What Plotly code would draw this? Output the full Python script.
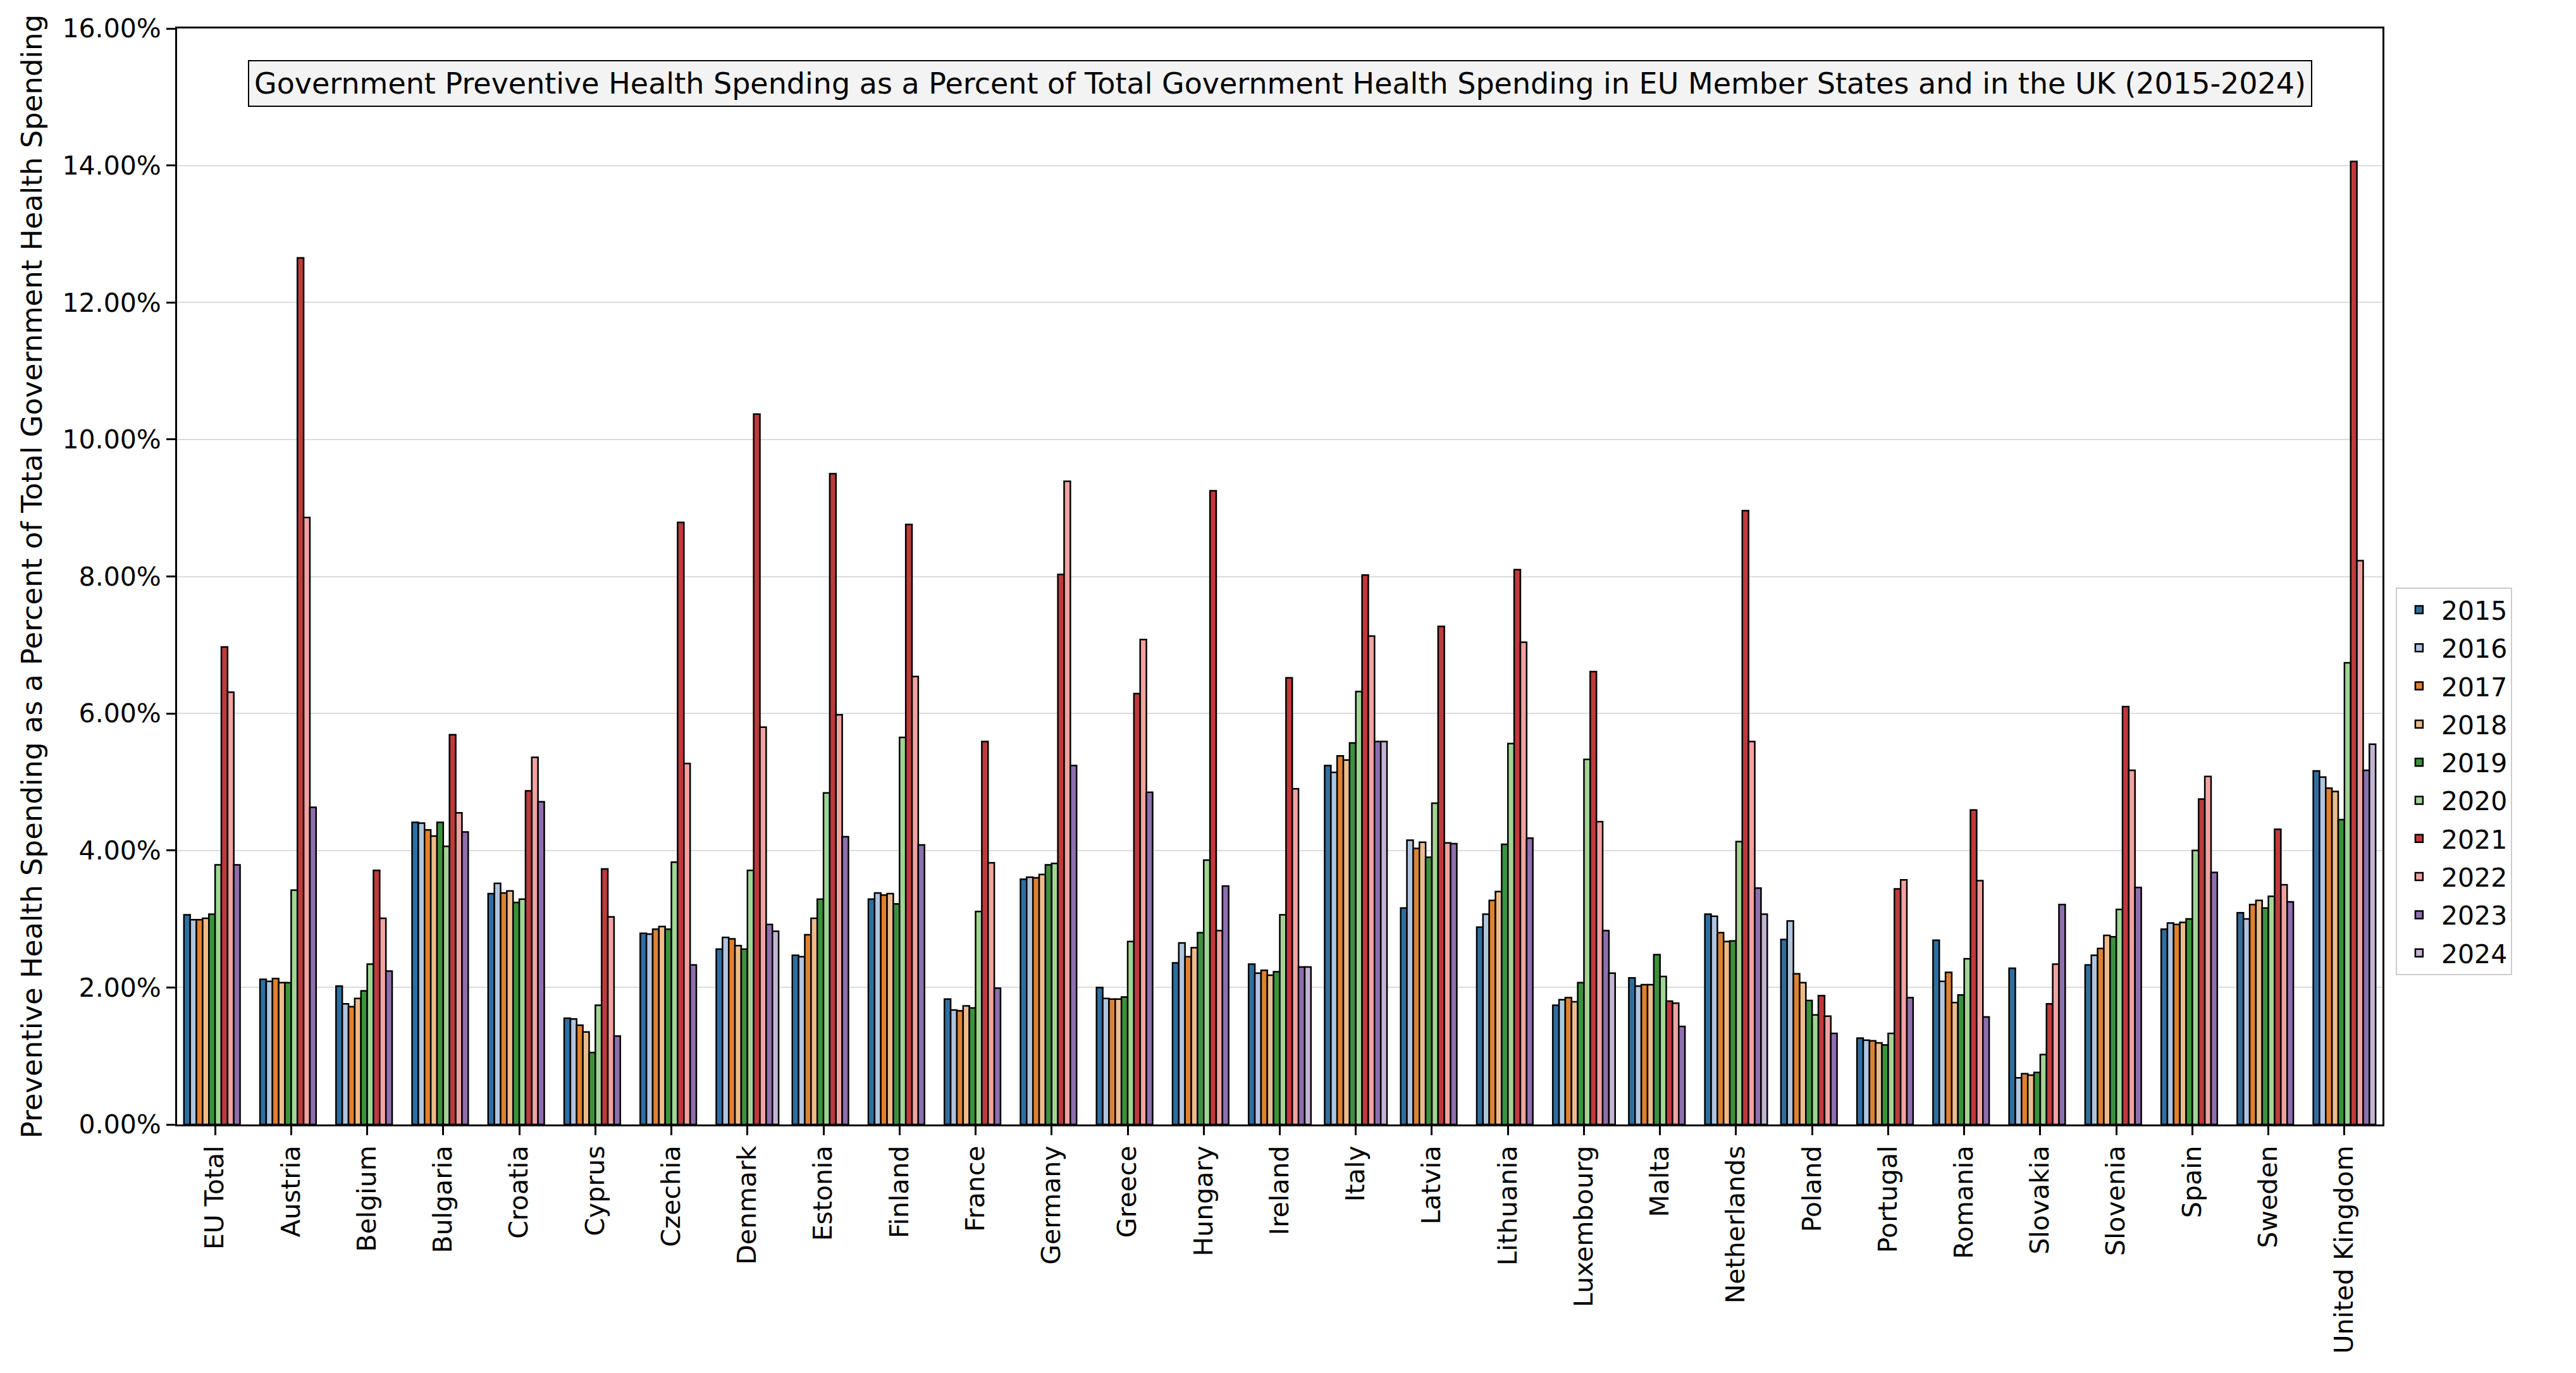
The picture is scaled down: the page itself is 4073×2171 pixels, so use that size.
import plotly.graph_objects as go

countries = ["EU Total", "Austria", "Belgium", "Bulgaria", "Croatia", "Cyprus", "Czechia",
             "Denmark", "Estonia", "Finland", "France", "Germany", "Greece", "Hungary",
             "Ireland", "Italy", "Latvia", "Lithuania", "Luxembourg", "Malta", "Netherlands",
             "Poland", "Portugal", "Romania", "Slovakia", "Slovenia", "Spain", "Sweden",
             "United Kingdom"]

years = ["2015", "2016", "2017", "2018", "2019", "2020", "2021", "2022", "2023", "2024"]

y2015 = [3.06, 2.12, 2.02, 4.41, 3.37, 1.55, 2.79, 2.56, 2.47, 3.29, 1.83, 3.58, 2.00, 2.36, 2.34,
         5.24, 3.16, 2.88, 1.74, 2.14, 3.07, 2.70, 1.26, 2.69, 2.28, 2.33, 2.85, 3.09, 5.16]
y2016 = [2.99, 2.09, 1.76, 4.40, 3.52, 1.54, 2.78, 2.73, 2.45, 3.38, 1.67, 3.61, 1.84, 2.65, 2.21,
         5.14, 4.15, 3.07, 1.82, 2.02, 3.04, 2.97, 1.23, 2.09, 0.68, 2.47, 2.94, 3.00, 5.07]
y2017 = [2.99, 2.13, 1.72, 4.30, 3.38, 1.45, 2.85, 2.71, 2.77, 3.35, 1.66, 3.60, 1.83, 2.45, 2.25,
         5.38, 4.03, 3.27, 1.85, 2.04, 2.80, 2.20, 1.22, 2.22, 0.74, 2.57, 2.92, 3.21, 4.91]
y2018 = [3.01, 2.07, 1.84, 4.21, 3.41, 1.35, 2.89, 2.61, 3.01, 3.37, 1.73, 3.65, 1.83, 2.58, 2.18,
         5.32, 4.12, 3.40, 1.79, 2.04, 2.67, 2.07, 1.19, 1.78, 0.72, 2.76, 2.95, 3.27, 4.86]
y2019 = [3.07, 2.07, 1.95, 4.41, 3.24, 1.05, 2.85, 2.56, 3.29, 3.22, 1.70, 3.79, 1.86, 2.80, 2.23,
         5.57, 3.90, 4.09, 2.07, 2.48, 2.68, 1.81, 1.16, 1.89, 0.76, 2.74, 3.00, 3.16, 4.45]
y2020 = [3.79, 3.42, 2.34, 4.06, 3.29, 1.74, 3.83, 3.71, 4.84, 5.65, 3.11, 3.81, 2.67, 3.86, 3.06,
         6.32, 4.69, 5.56, 5.33, 2.16, 4.13, 1.60, 1.33, 2.42, 1.02, 3.14, 4.00, 3.33, 6.74]
y2021 = [6.97, 12.65, 3.71, 5.69, 4.87, 3.73, 8.79, 10.37, 9.50, 8.76, 5.59, 8.03, 6.29, 9.25, 6.52,
         8.02, 7.27, 8.10, 6.61, 1.80, 8.96, 1.88, 3.44, 4.59, 1.76, 6.10, 4.75, 4.31, 14.06]
y2022 = [6.31, 8.86, 3.01, 4.55, 5.36, 3.03, 5.27, 5.80, 5.98, 6.54, 3.82, 9.39, 7.08, 2.83, 4.90,
         7.13, 4.11, 7.04, 4.42, 1.77, 5.59, 1.58, 3.57, 3.56, 2.34, 5.17, 5.08, 3.50, 8.23]
y2023 = [3.79, 4.63, 2.24, 4.27, 4.71, 1.29, 2.33, 2.92, 4.20, 4.08, 1.99, 5.24, 4.85, 3.48, 2.30,
         5.59, 4.10, 4.18, 2.83, 1.43, 3.45, 1.33, 1.85, 1.57, 3.21, 3.46, 3.68, 3.25, 5.17]
y2024 = [None, None, None, None, None, None, None, 2.82, None, None, None, None, None, None, 2.30,
         5.59, None, None, 2.21, None, 3.07, None, None, None, None, None, None, None, 5.55]

series = [y2015, y2016, y2017, y2018, y2019, y2020, y2021, y2022, y2023, y2024]

colors = ["#2f6f9f", "#afc4df", "#e0802f", "#ecbb8c", "#3a933a",
          "#a0d595", "#bf3a3b", "#f0a3a2", "#8e6fae", "#c3b4d1"]

FONT = "DejaVu Sans"

fig = go.Figure()
for yr, vals, col in zip(years, series, colors):
    fig.add_trace(go.Bar(
        name=yr, x=countries, y=vals, legendgroup=yr,
        marker=dict(color=col, line=dict(color="black", width=2.5)),
    ))

fig.update_layout(
    width=4073, height=2171,
    margin=dict(l=280, r=306, t=45, b=393, autoexpand=False),
    paper_bgcolor="white", plot_bgcolor="white",
    barmode="group", bargap=0.18, bargroupgap=0,
    font=dict(family=FONT, size=41, color="black"),
    showlegend=True,
    legend=dict(
        x=1.006, xanchor="left", y=0.49, yanchor="top",
        bordercolor="#cccccc", borderwidth=2, bgcolor="white",
        font=dict(family=FONT, size=41), tracegroupgap=4,
        itemwidth=60,
    ),
    annotations=[dict(
        text="Government Preventive Health Spending as a Percent of Total Government Health Spending in EU Member States and in the UK (2015-2024)",
        xref="paper", yref="paper", x=0.5, y=0.95, xanchor="center", yanchor="middle",
        showarrow=False, font=dict(family=FONT, size=46, color="black"),
        bgcolor="#f3f3f3", bordercolor="black", borderwidth=2, borderpad=8,
    )],
)

fig.update_xaxes(
    type="category", tickangle=-90,
    showline=True, linecolor="black", linewidth=3, mirror=True,
    ticks="outside", ticklen=14, tickwidth=3, tickcolor="black",
    showgrid=False, tickfont=dict(family=FONT, size=41),
)

fig.update_yaxes(
    range=[0, 16], dtick=2, tick0=0, tickformat=".2f", ticksuffix="%",
    showline=True, linecolor="black", linewidth=3, mirror=True,
    ticks="outside", ticklen=14, tickwidth=3, tickcolor="black",
    showgrid=True, gridcolor="#dcdcdc", gridwidth=2, zeroline=False,
    tickfont=dict(family=FONT, size=41),
    title=dict(text="Preventive Health Spending as a Percent of Total Government Health Spending",
               font=dict(family=FONT, size=45), standoff=18),
)

fig.write_html("out.html", config={"displayModeBar": False})
